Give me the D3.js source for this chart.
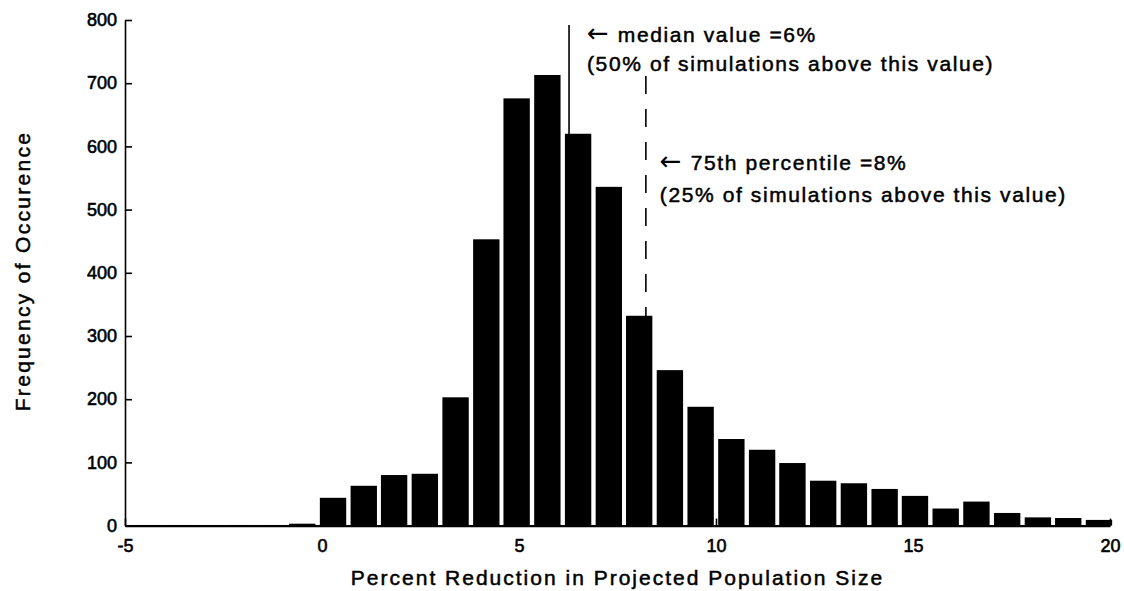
<!DOCTYPE html>
<html>
<head>
<meta charset="utf-8">
<script src="https://cdn.jsdelivr.net/npm/d3@7"></script>
<style>
  html, body { margin: 0; padding: 0; background: #fff; }
  svg { display: block; }
  text { font-family: "Liberation Sans", Arial, Helvetica, sans-serif; fill: #000; }
</style>
</head>
<body>
<svg id="chart" width="1124" height="591"></svg>
<script>
// Histogram of simulated percent reduction in projected population size
const binCenters = [-4.39, -3.61, -2.83, -2.05, -1.28, -0.50, 0.28, 1.06, 1.83, 2.61,
                    3.39, 4.17, 4.94, 5.72, 6.50, 7.28, 8.05, 8.83, 9.61, 10.39,
                    11.17, 11.94, 12.72, 13.50, 14.28, 15.05, 15.83, 16.61, 17.39, 18.17,
                    18.94, 19.72];
const counts = [1, 1, 0, 1, 1, 3, 44, 63, 80, 82,
                203, 453, 676, 713, 620, 536, 332, 246, 188, 137,
                120, 99, 71, 67, 58, 47, 27, 38, 20, 13,
                12, 9];
const binWidth = 0.778;

const xTicks = [-5, 0, 5, 10, 15, 20];
const yTicks = [0, 100, 200, 300, 400, 500, 600, 700, 800];

// Summary statistics marked on the chart
const medianValue = 6.27;
const pct75Value = 8.22;

const svg = d3.select("#chart");
const W = 1124, H = 591;
const margin = { top: 20, right: 14, bottom: 65.4, left: 125 };

const x = d3.scaleLinear().domain([-5, 20]).range([margin.left, W - margin.right]);
const y = d3.scaleLinear().domain([0, 800]).range([H - margin.bottom, margin.top]);

const barW = (x(binWidth) - x(0)) * 0.86;

// Bars
svg.append("g")
  .selectAll("rect")
  .data(binCenters.map((c, i) => ({ c, v: counts[i] })))
  .join("rect")
  .attr("x", d => x(d.c) - barW / 2)
  .attr("width", barW)
  .attr("y", d => y(d.v))
  .attr("height", d => y(0) - y(d.v))
  .attr("fill", "#000");

// Median (solid) and 75th percentile (dashed) markers
svg.append("line")
  .attr("x1", x(medianValue)).attr("x2", x(medianValue))
  .attr("y1", 25).attr("y2", y(0))
  .attr("stroke", "#000").attr("stroke-width", 1.6);

svg.append("line")
  .attr("x1", x(pct75Value)).attr("x2", x(pct75Value))
  .attr("y1", 76).attr("y2", y(0))
  .attr("stroke", "#000").attr("stroke-width", 1.6)
  .attr("stroke-dasharray", "18,15");

// Axes
const fmt = d => String(d);

const yAxis = svg.append("g")
  .attr("transform", `translate(${margin.left},0)`)
  .call(d3.axisLeft(y).tickValues(yTicks).tickFormat(fmt).tickSizeInner(-7).tickSizeOuter(0).tickPadding(8));

const xAxis = svg.append("g")
  .attr("transform", `translate(0,${y(0)})`)
  .call(d3.axisBottom(x).tickValues(xTicks).tickFormat(fmt).tickSizeInner(-7).tickSizeOuter(0).tickPadding(14));

[yAxis, xAxis].forEach(g => {
  g.select(".domain").attr("stroke", "#000").attr("stroke-width", 1.6);
  g.selectAll(".tick line").attr("stroke", "#000").attr("stroke-width", 1.6);
  g.selectAll(".tick text")
    .attr("fill", "#000")
    .style("font-size", "18px")
    .style("stroke", "#000").style("stroke-width", "0.6px");
});
xAxis.select(".domain").attr("stroke-width", 2.2);

// Annotations: a left arrow followed by the label, second line in parentheses
function annotate(px, label, note, baselines) {
  const g = svg.append("g")
    .style("font-size", "21px")
    .style("letter-spacing", "1.6px")
    .style("stroke", "#000").style("stroke-width", "0.5px");
  const first = g.append("text").attr("x", px).attr("y", baselines[0]);
  first.append("tspan")
    .style("font-family", "'DejaVu Sans', sans-serif")
    .style("font-size", "26px")
    .style("stroke-width", "0px")
    .text("\u2190");
  first.append("tspan").text(" " + label);
  g.append("text").attr("x", px).attr("y", baselines[1]).text(note);
}
annotate(x(medianValue) + 18,
  `median value =${Math.round(medianValue)}%`, "(50% of simulations above this value)",
  [42, 71]);
annotate(x(pct75Value) + 14,
  `75th percentile =${Math.round(pct75Value)}%`, "(25% of simulations above this value)",
  [170, 202]);

// Axis titles
svg.append("text")
  .attr("x", (margin.left + W - margin.right) / 2)
  .attr("y", 585)
  .attr("text-anchor", "middle")
  .style("font-size", "21px")
  .style("letter-spacing", "2px")
  .style("stroke", "#000").style("stroke-width", "0.5px")
  .text("Percent Reduction in Projected Population Size");

svg.append("text")
  .attr("transform", "translate(30,271) rotate(-90)")
  .attr("text-anchor", "middle")
  .style("font-size", "21px")
  .style("letter-spacing", "2.3px")
  .style("stroke", "#000").style("stroke-width", "0.5px")
  .text("Frequency of Occurence");
</script>
</body>
</html>
